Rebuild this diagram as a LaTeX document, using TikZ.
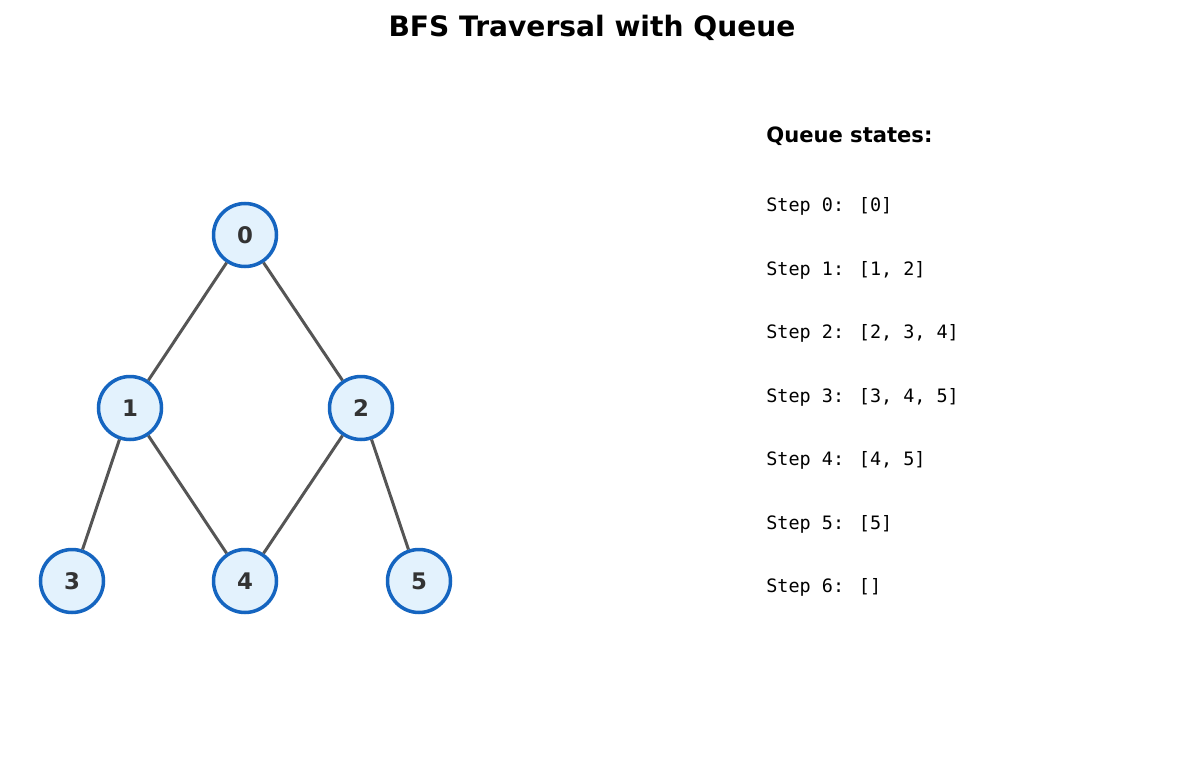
\documentclass[tikz,border=0pt]{standalone}
\usepackage{fontspec}
\setmainfont{DejaVu Sans}
\newfontfamily\queuefont{DejaVu Sans Mono}
\definecolor{edgegray}{HTML}{555555}
\definecolor{nodeblue}{HTML}{1565C0}
\definecolor{nodefill}{HTML}{E3F2FD}
\definecolor{labelgray}{HTML}{333333}
\tikzset{
  vertex/.style={circle,draw=nodeblue,fill=nodefill,line width=2pt,minimum size=1.26cm,inner sep=0pt,
    text=labelgray,font=\fontsize{13}{15}\selectfont\bfseries},
  treeedge/.style={draw=edgegray,line width=1.7pt},
  qline/.style={anchor=west,inner sep=0pt,font=\queuefont\fontsize{10.5}{12}\selectfont}
}
\begin{document}
\begin{tikzpicture}[x=0.02cm,y=-0.02cm]
    \useasboundingbox (0,0) rectangle (1185,770);
    \node[font=\fontsize{16}{19}\selectfont\bfseries] (title) at (592,28) {BFS Traversal with Queue};

    \node[vertex] (v0) at (245,235) {0};
    \node[vertex] (v1) at (130,408) {1};
    \node[vertex] (v2) at (361,408) {2};
    \node[vertex] (v3) at (72,581) {3};
    \node[vertex] (v4) at (245,581) {4};
    \node[vertex] (v5) at (419,581) {5};

    \draw[treeedge] (v0) -- (v1);
    \draw[treeedge] (v0) -- (v2);
    \draw[treeedge] (v1) -- (v3);
    \draw[treeedge] (v1) -- (v4);
    \draw[treeedge] (v2) -- (v4);
    \draw[treeedge] (v2) -- (v5);

    \node[anchor=west,inner sep=0pt,font=\fontsize{12}{14}\selectfont\bfseries] (qhead) at (766,136) {Queue states:};
    \node[qline] (q0) at (766,206) {Step 0: [0]};
    \node[qline] (q1) at (766,270) {Step 1: [1, 2]};
    \node[qline] (q2) at (766,333) {Step 2: [2, 3, 4]};
    \node[qline] (q3) at (766,397) {Step 3: [3, 4, 5]};
    \node[qline] (q4) at (766,460) {Step 4: [4, 5]};
    \node[qline] (q5) at (766,524) {Step 5: [5]};
    \node[qline] (q6) at (766,587) {Step 6: []};
\end{tikzpicture}
\end{document}
